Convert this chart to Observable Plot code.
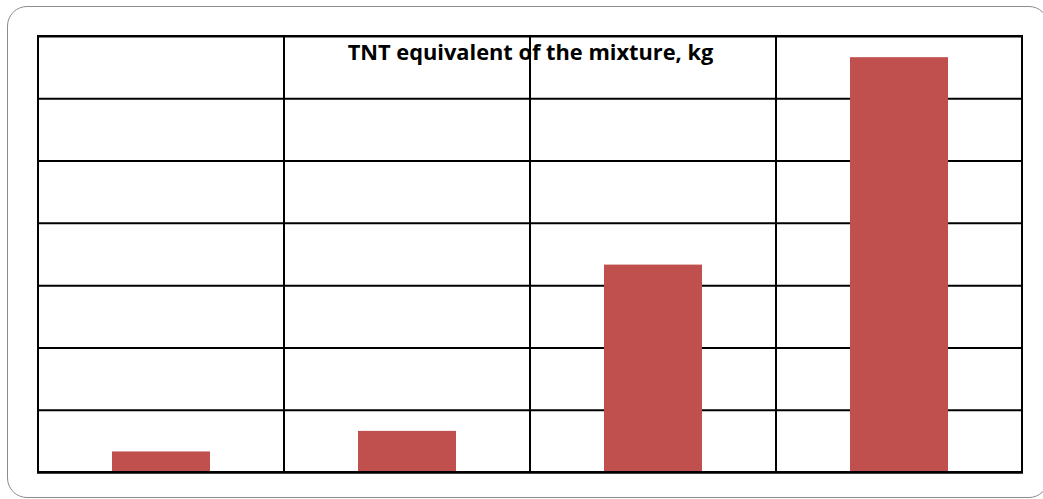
<!DOCTYPE html>
<html>
<head>
<meta charset="utf-8">
<script src="https://cdn.jsdelivr.net/npm/d3@7"></script>
<script src="https://cdn.jsdelivr.net/npm/@observablehq/plot@0.6"></script>
<style>
  html, body { margin: 0; padding: 0; background: #fff; }
  #wrap { position: relative; width: 1043px; height: 499px; overflow: hidden; }
  #wrap svg { position: absolute; left: 0; top: 0; }
  #border { position: absolute; left: 7px; top: 6px; width: 1042px; height: 492px;
            border: 1.5px solid #8c8c8c; border-radius: 20px; box-sizing: border-box; pointer-events: none; }
</style>
</head>
<body>
<div id="wrap"><div id="border"></div></div>
<script>
const title = "TNT equivalent of the mixture, kg";
const categories = ["1", "2", "3", "4"];
const values = [0.33, 0.66, 3.33, 6.66];
const yTicks = [0, 1, 2, 3, 4, 5, 6, 7];

const data = categories.map((c, i) => ({category: c, value: values[i]}));
const yMax = d3.max(yTicks);

const chart = Plot.plot({
  width: 1043,
  height: 499,
  marginLeft: 37,
  marginRight: 20,
  marginTop: 36,
  marginBottom: 27,
  style: {background: "transparent", overflow: "visible"},
  x: {type: "band", domain: categories, padding: 0, axis: null},
  y: {domain: [0, yMax], axis: null},
  marks: [
    Plot.text([title], {
      frameAnchor: "top", dy: 8, text: d => d,
      fontFamily: "'Open Sans', Lato, sans-serif", fontWeight: "bold", fontSize: 21.8,
      fill: "#000", lineAnchor: "top"
    }),
    Plot.ruleY(yTicks, {stroke: "#000", strokeWidth: 2}),
    Plot.barY(data, {x: "category", y: "value", fill: "#C0504D", insetLeft: 74, insetRight: 74}),
    Plot.barY(categories, {x: d => d, y1: 0, y2: yMax, fill: "none", stroke: "#000", strokeWidth: 2}),
    Plot.ruleY([0], {stroke: "#000", strokeWidth: 2})
  ]
});
document.getElementById("wrap").prepend(chart);
</script>
</body>
</html>
